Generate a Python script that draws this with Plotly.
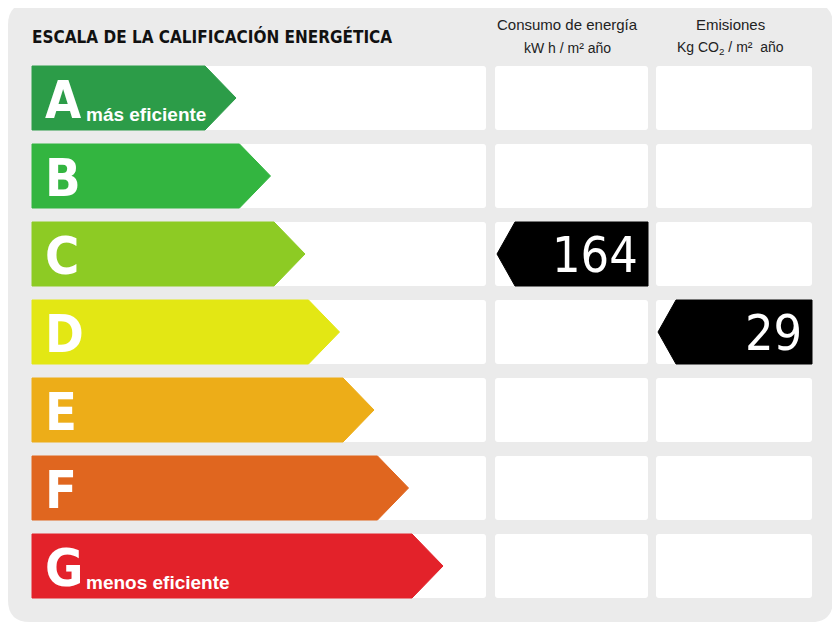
import plotly.graph_objects as go

# rating scale data
ratings = ["A", "B", "C", "D", "E", "F", "G"]
colors = ["#2c9c48", "#33b540", "#8dcb24", "#e3e714", "#edad18", "#e0661f", "#e3222a"]
notes = {"A": "más eficiente", "G": "menos eficiente"}

energy_rating = "C"
energy_value = 164
emission_rating = "D"
emission_value = 29

title = "ESCALA DE LA CALIFICACIÓN ENERGÉTICA"
col_titles = ["Consumo de energía", "Emisiones"]
col_units = ["kW h / m² año", "Kg CO<sub>2</sub> / m²  año"]

# layout (pixels of the page; page body has an 8px margin)
W, H = 840, 630
OFF = 8
row_top, row_h, row_step = 66, 64, 78
x_left = 32
tip0, tip_step, tip_depth = 236, 34.5, 31
cols = [(32, 486), (495, 648), (656, 812)]
cond = "DejaVu Sans Condensed, Liberation Sans Narrow, sans-serif"
sans = "Liberation Sans, Arial, sans-serif"


def rounded(x0, y0, x1, y1, r):
    return (f"M{x0+r},{y0} L{x1-r},{y0} Q{x1},{y0} {x1},{y0+r} "
            f"L{x1},{y1-r} Q{x1},{y1} {x1-r},{y1} L{x0+r},{y1} "
            f"Q{x0},{y1} {x0},{y1-r} L{x0},{y0+r} Q{x0},{y0} {x0+r},{y0} Z")


fig = go.Figure()
shapes = [dict(type="path", path=rounded(8, 3, 833, 622, 22), xref="x", yref="y",
               fillcolor="#ebebeb", line=dict(width=0), layer="below")]
for i in range(len(ratings)):
    y0 = row_top + i * row_step
    for c0, c1 in cols:
        shapes.append(dict(type="path", path=rounded(c0, y0, c1, y0 + row_h, 3),
                           xref="x", yref="y", fillcolor="white",
                           line=dict(width=0), layer="below"))

annotations = []
for i, (r, col) in enumerate(zip(ratings, colors)):
    y0 = row_top + i * row_step
    y1 = y0 + row_h
    ym = (y0 + y1) / 2
    tip = tip0 + i * tip_step
    fig.add_trace(go.Scatter(
        x=[x_left, tip - tip_depth, tip, tip - tip_depth, x_left, x_left],
        y=[y0, y0, ym, y1, y1, y0],
        fill="toself", fillcolor=col, mode="lines",
        line=dict(color=col, width=1), hoverinfo="skip", showlegend=False))
    annotations.append(dict(x=43, y=ym + 2, text=f"<b>{r}</b>", showarrow=False,
                            xanchor="left", yanchor="middle",
                            font=dict(family=cond, size=52, color="white")))
    if r in notes:
        annotations.append(dict(x=84, y=y1 - 16, text=f"<b>{notes[r]}</b>",
                                showarrow=False, xanchor="left", yanchor="middle",
                                font=dict(family=sans, size=19, color="white")))

# black value arrows
for k, (rating, value) in enumerate([(energy_rating, energy_value),
                                      (emission_rating, emission_value)]):
    i = ratings.index(rating)
    c0, c1 = cols[k + 1]
    y0 = row_top + i * row_step
    y1 = y0 + row_h
    ym = (y0 + y1) / 2
    fig.add_trace(go.Scatter(
        x=[c1, c0 + 20, c0 + 2, c0 + 20, c1, c1],
        y=[y0, y0, ym, y1, y1, y0],
        fill="toself", fillcolor="black", mode="lines",
        line=dict(color="black", width=1), hoverinfo="skip", showlegend=False))
    annotations.append(dict(x=c1 - 8, y=ym + 1, text=str(value), showarrow=False,
                            xanchor="right", yanchor="middle",
                            font=dict(family=cond, size=50, color="white")))

annotations.append(dict(x=30, y=36, text=f"<b>{title}</b>", showarrow=False,
                        xanchor="left", yanchor="middle",
                        font=dict(family=cond, size=17, color="#111111")))
for k, (t, u) in enumerate(zip(col_titles, col_units)):
    xc = (cols[k + 1][0] + cols[k + 1][1]) / 2 - 4
    annotations.append(dict(x=xc, y=24, text=t, showarrow=False, xanchor="center",
                            yanchor="middle",
                            font=dict(family=sans, size=15, color="#222222")))
    annotations.append(dict(x=xc, y=48, text=u, showarrow=False, xanchor="center",
                            yanchor="middle",
                            font=dict(family=sans, size=14, color="#222222")))

fig.update_layout(
    width=W - OFF, height=H - OFF, margin=dict(l=0, r=0, t=0, b=0),
    paper_bgcolor="white", plot_bgcolor="white",
    shapes=shapes, annotations=annotations,
    xaxis=dict(range=[OFF, W], visible=False, fixedrange=True),
    yaxis=dict(range=[H, OFF], visible=False, fixedrange=True),
)
fig.write_html("out.html", config={"displayModeBar": False})
